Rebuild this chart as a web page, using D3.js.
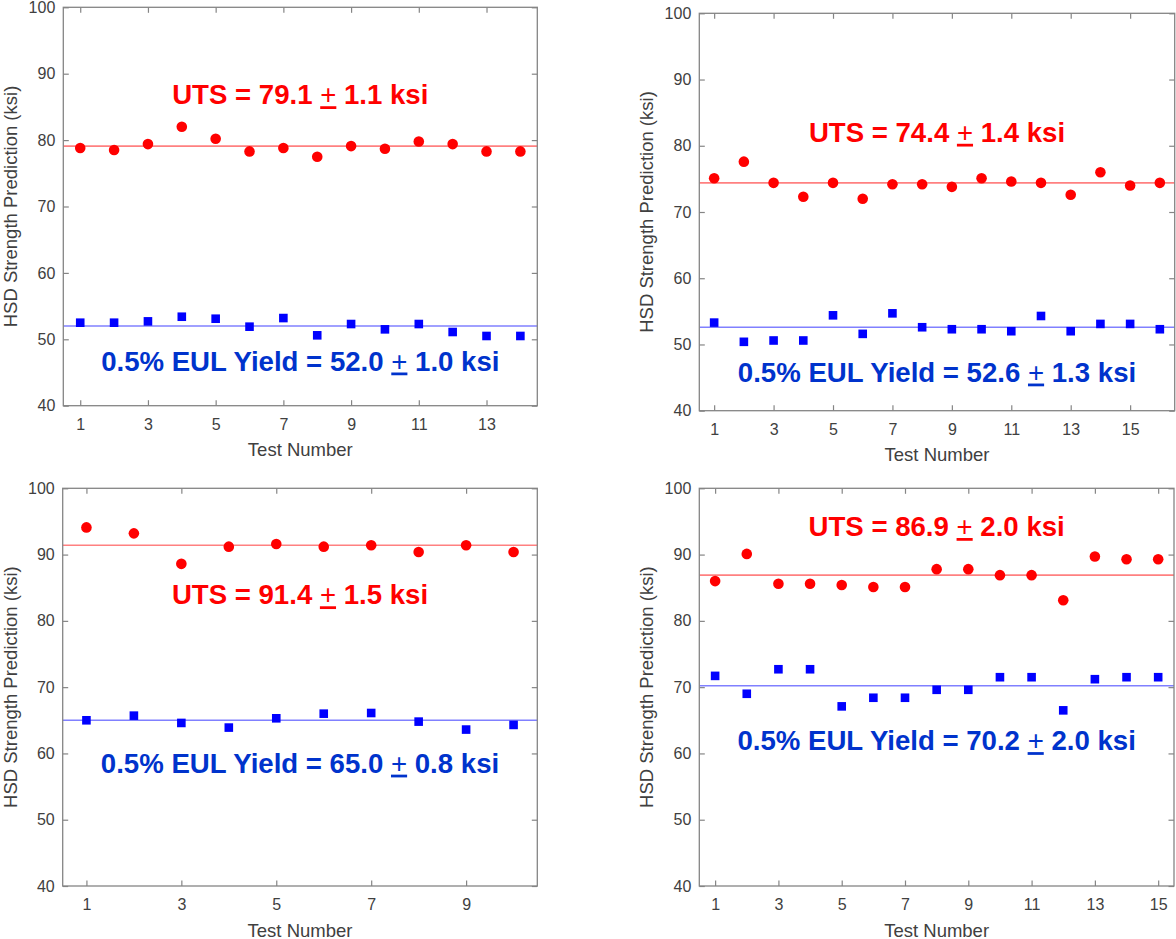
<!DOCTYPE html>
<html>
<head>
<meta charset="utf-8">
<script src="https://cdn.jsdelivr.net/npm/d3@7"></script>
<style>
  body { margin: 0; background: #fff; }
  svg { display: block; font-family: "Liberation Sans", Arial, sans-serif; }
</style>
</head>
<body>
<svg id="chart" width="1176" height="939"></svg>
<script>
// data (ksi)
const uts1 = [78.8, 78.5, 79.4, 82.0, 80.2, 78.3, 78.8, 77.5, 79.1, 78.7, 79.8, 79.4, 78.3, 78.3];
const yield1 = [52.5, 52.5, 52.7, 53.4, 53.1, 51.9, 53.2, 50.6, 52.3, 51.5, 52.3, 51.1, 50.5, 50.5];
const uts2 = [75.1, 77.6, 74.4, 72.3, 74.4, 72.0, 74.2, 74.2, 73.8, 75.1, 74.6, 74.4, 72.6, 76.0, 74.0, 74.4];
const yield2 = [53.3, 50.4, 50.6, 50.6, 54.4, 51.6, 54.7, 52.6, 52.3, 52.3, 52.0, 54.3, 52.0, 53.1, 53.1, 52.3];
const uts3 = [94.1, 93.2, 88.6, 91.2, 91.6, 91.2, 91.4, 90.4, 91.4, 90.4];
const yield3 = [65.0, 65.7, 64.6, 63.9, 65.3, 66.0, 66.1, 64.8, 63.6, 64.3];
const uts4 = [86.0, 90.1, 85.6, 85.6, 85.4, 85.1, 85.1, 87.8, 87.8, 86.9, 86.9, 83.1, 89.7, 89.3, 89.3];
const yield4 = [71.7, 69.0, 72.7, 72.7, 67.1, 68.4, 68.4, 69.6, 69.6, 71.5, 71.5, 66.5, 71.2, 71.5, 71.5];

const utsMean = [79.1, 74.4, 91.4, 86.9];
const utsSd = ["1.1", "1.4", "1.5", "2.0"];
const yieldMean = [52.0, 52.6, 65.0, 70.2];
const yieldSd = ["1.0", "1.3", "0.8", "2.0"];

const yTicks = [40, 50, 60, 70, 80, 90, 100];

// panel frames in page pixels, and where the two notes sit (y in ksi)
const panels = [
  { x0: 63.3, x1: 537.3, y0: 7.3, y1: 405.7, uts: uts1, yld: yield1, utsY: 85.4, yldY: 45.3 },
  { x0: 699.3, x1: 1174.7, y0: 13.3, y1: 410.7, uts: uts2, yld: yield2, utsY: 80.6, yldY: 44.4 },
  { x0: 62.7, x1: 537.3, y0: 488.3, y1: 886, uts: uts3, yld: yield3, utsY: 82.5, yldY: 57.1 },
  { x0: 699.3, x1: 1174, y0: 488.3, y1: 886, uts: uts4, yld: yield4, utsY: 92.8, yldY: 60.5 }
];

const svg = d3.select("#chart");
svg.append("rect").attr("width", 1176).attr("height", 939).attr("fill", "#fff");

const frameColor = "#858585";
const textColor = "#404040";

// bold note with a plain, underlined "+" standing in for the plus-minus sign
function note(g, cx, cy, color, head, tail) {
  const t = g.append("text")
    .attr("x", cx).attr("y", cy)
    .attr("text-anchor", "middle")
    .attr("fill", color)
    .style("font-size", "27.6px").style("font-weight", "bold");
  t.append("tspan").text(head + " ");
  t.append("tspan").style("font-weight", "normal")
    .style("text-decoration", "underline").text("+");
  t.append("tspan").text(" " + tail);
}

panels.forEach((p, k) => {
  const n = p.uts.length;
  const x = d3.scaleLinear().domain([0.5, n + 0.5]).range([p.x0, p.x1]);
  const y = d3.scaleLinear().domain([40, 100]).range([p.y1, p.y0]);
  const xTicks = d3.range(1, n + 1, 2);

  const g = svg.append("g");

  // mean lines
  g.append("line")
    .attr("x1", p.x0).attr("x2", p.x1)
    .attr("y1", y(utsMean[k])).attr("y2", y(utsMean[k]))
    .attr("stroke", "#ff8080").attr("stroke-width", 1.6);
  g.append("line")
    .attr("x1", p.x0).attr("x2", p.x1)
    .attr("y1", y(yieldMean[k])).attr("y2", y(yieldMean[k]))
    .attr("stroke", "#8080ff").attr("stroke-width", 1.6);

  // axes, ticks pointing inward on all sides
  const bottom = g.append("g").attr("transform", "translate(0," + p.y1 + ")")
    .call(d3.axisBottom(x).tickValues(xTicks).tickSize(-5.5).tickPadding(13));
  const top = g.append("g").attr("transform", "translate(0," + p.y0 + ")")
    .call(d3.axisTop(x).tickValues(xTicks).tickSize(-5.5).tickFormat(""));
  const left = g.append("g").attr("transform", "translate(" + p.x0 + ",0)")
    .call(d3.axisLeft(y).tickValues(yTicks).tickSize(-5.5).tickPadding(8));
  const right = g.append("g").attr("transform", "translate(" + p.x1 + ",0)")
    .call(d3.axisRight(y).tickValues(yTicks).tickSize(-5.5).tickFormat(""));

  [bottom, top, left, right].forEach(a => {
    a.select(".domain").remove();
    a.selectAll(".tick line").attr("stroke", frameColor).attr("stroke-width", 1.2);
    a.selectAll("text")
      .attr("fill", textColor)
      .style("font-size", "16px")
      .style("font-family", "'Liberation Sans', Arial, sans-serif");
  });

  g.append("rect")
    .attr("x", p.x0).attr("y", p.y0)
    .attr("width", p.x1 - p.x0).attr("height", p.y1 - p.y0)
    .attr("fill", "none").attr("stroke", frameColor).attr("stroke-width", 1.3);

  // points
  g.selectAll("circle.uts").data(p.uts).enter().append("circle")
    .attr("class", "uts")
    .attr("cx", (d, i) => x(i + 1))
    .attr("cy", d => y(d))
    .attr("r", 5.3)
    .attr("fill", "#ff0000");

  const s = 8.6;
  g.selectAll("rect.yld").data(p.yld).enter().append("rect")
    .attr("class", "yld")
    .attr("x", (d, i) => x(i + 1) - s / 2)
    .attr("y", d => y(d) - s / 2)
    .attr("width", s).attr("height", s)
    .attr("fill", "#0000ff");

  // axis titles
  g.append("text")
    .attr("x", (p.x0 + p.x1) / 2)
    .attr("y", p.y1 + 50.5)
    .attr("text-anchor", "middle")
    .attr("fill", textColor)
    .style("font-size", "18.5px")
    .text("Test Number");

  g.append("text")
    .attr("transform", "translate(" + (p.x0 - 46) + "," + ((p.y0 + p.y1) / 2) + ") rotate(-90)")
    .attr("text-anchor", "middle")
    .attr("fill", textColor)
    .style("font-size", "18.5px")
    .text("HSD Strength Prediction (ksi)");

  // notes with mean +/- spread
  const cx = (p.x0 + p.x1) / 2;
  note(g, cx, y(p.utsY), "#ff0000", "UTS = " + utsMean[k].toFixed(1), utsSd[k] + " ksi");
  note(g, cx, y(p.yldY), "#0033cc", "0.5% EUL Yield = " + yieldMean[k].toFixed(1), yieldSd[k] + " ksi");
});
</script>
</body>
</html>
